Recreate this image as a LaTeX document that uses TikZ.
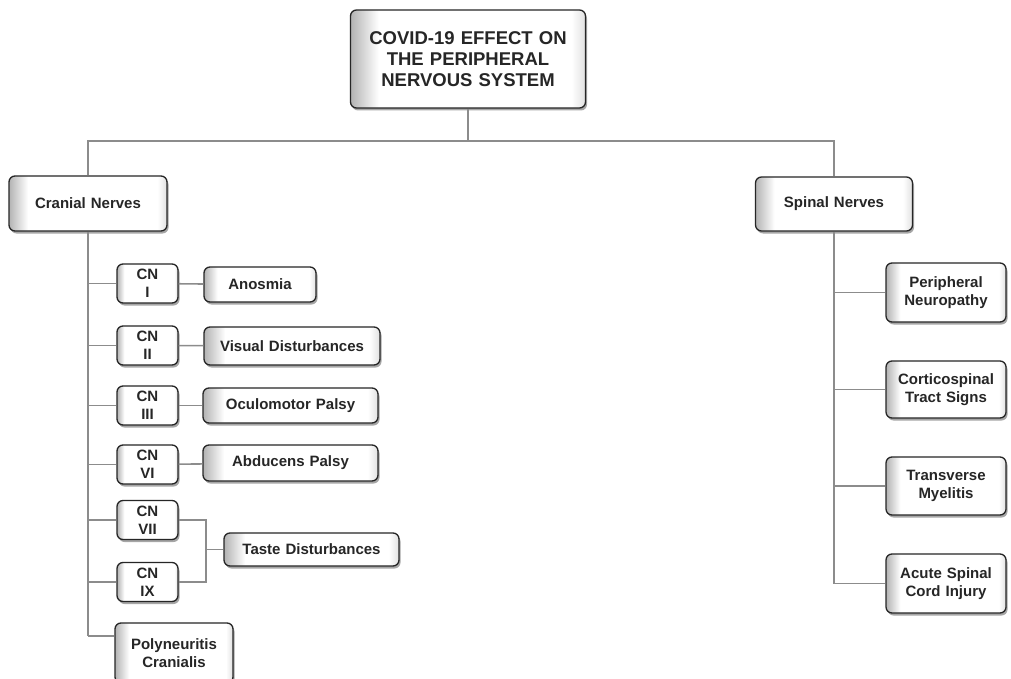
\documentclass[tikz,border=0pt]{standalone}
\usepackage{fontspec}
\setmainfont{Liberation Sans}
\usetikzlibrary{shadows}
\pgfdeclarehorizontalshading{bevel}{100bp}{color(0bp)=(black!30); color(25bp)=(black!30); color(31bp)=(white); color(72bp)=(white); color(75bp)=(black!12); color(100bp)=(black!12)}
\tikzset{
  box/.style={draw=black!85, line width=1.3pt, rounded corners=6pt, shading=bevel,
    drop shadow={shadow xshift=1.5pt, shadow yshift=-2.5pt, opacity=0.35, fill=black},
    align=center, inner sep=1pt, text=black!85,
    font=\fontsize{15}{18}\selectfont\bfseries},
  titlebox/.style={box, font=\fontsize{18.5}{21}\selectfont\bfseries},
  link/.style={draw=black!45, line width=1.6pt},
  sz/.style 2 args={minimum width=#1pt, minimum height=#2pt, text width=#1pt-4pt}
}
\begin{document}
\begin{tikzpicture}[x=1pt,y=-1pt]
\useasboundingbox (0,0) rectangle (1011,679);
\fill[white] (0,0) rectangle (1011,679);
% nodes
\node[titlebox, sz={235}{98}] (title) at (468,59) {COVID-19 EFFECT ON\\THE PERIPHERAL\\NERVOUS SYSTEM};
\node[box, sz={158}{55}] (cran) at (88,203.5) {Cranial Nerves};
\node[box, sz={157}{54}] (spin) at (834,204) {Spinal Nerves};
% spinal children
\node[box, sz={120}{59}] (pn) at (946,292.5) {Peripheral\\Neuropathy};
\node[box, sz={120}{57}] (cs) at (946,389.5) {Corticospinal\\Tract Signs};
\node[box, sz={120}{58}] (tm) at (946,486) {Transverse\\Myelitis};
\node[box, sz={120}{59}] (as) at (946,583.5) {Acute Spinal\\Cord Injury};
% cranial nerves
\node[box, sz={61}{39}] (cn1) at (147.5,283.5) {CN\\I};
\node[box, sz={61}{39}] (cn2) at (147.5,345.5) {CN\\II};
\node[box, sz={61}{39}] (cn3) at (147.5,405.5) {CN\\III};
\node[box, sz={61}{39}] (cn6) at (147.5,464.5) {CN\\VI};
\node[box, sz={61}{39}] (cn7) at (147.5,520) {CN\\VII};
\node[box, sz={61}{39}] (cn9) at (147.5,582) {CN\\IX};
\node[box, sz={118}{60}] (poly) at (174,653) {Polyneuritis\\Cranialis};
% effects
\node[box, sz={112}{35}] (ano) at (260,284.5) {Anosmia};
\node[box, sz={176}{38}] (vis) at (292,346) {Visual Disturbances};
\node[box, sz={175}{35}] (ocu) at (290.5,405.5) {Oculomotor Palsy};
\node[box, sz={175}{36}] (abd) at (290.5,463) {Abducens Palsy};
\node[box, sz={175}{33}] (taste) at (311.5,549.5) {Taste Disturbances};
% connectors
\coordinate (bar) at (468,141);
\draw[link] (title.south) -- (bar);
\draw[link] (cran.north) |- (bar) -| (spin.north);
% cranial spine
\coordinate (cbot) at (88,636);
\draw[link] (cran.south) -- (cbot);
\foreach \n in {cn1,cn2,cn3,cn6,cn7,cn9}{
  \draw[link] (\n.west) -- (\n.west -| cran.south);
}
\draw[link] (cbot) -- (cbot -| poly.west);
\draw[link] (cn1) -- (ano);
\draw[link] (cn2) -- (vis);
\draw[link] (cn3) -- (ocu);
\draw[link] (cn6) -- (abd);
\coordinate (tb) at (206,549.5);
\draw[link] (cn7.east) -| (tb);
\draw[link] (cn9.east) -| (tb);
\draw[link] (tb) -- (taste.west);
% spinal spine
\coordinate (sbot) at (834,583.5);
\draw[link] (spin.south) -- (sbot);
\foreach \n in {pn,cs,tm,as}{
  \draw[link] (\n.west) -- (\n.west -| spin.south);
}
\end{tikzpicture}
\end{document}
